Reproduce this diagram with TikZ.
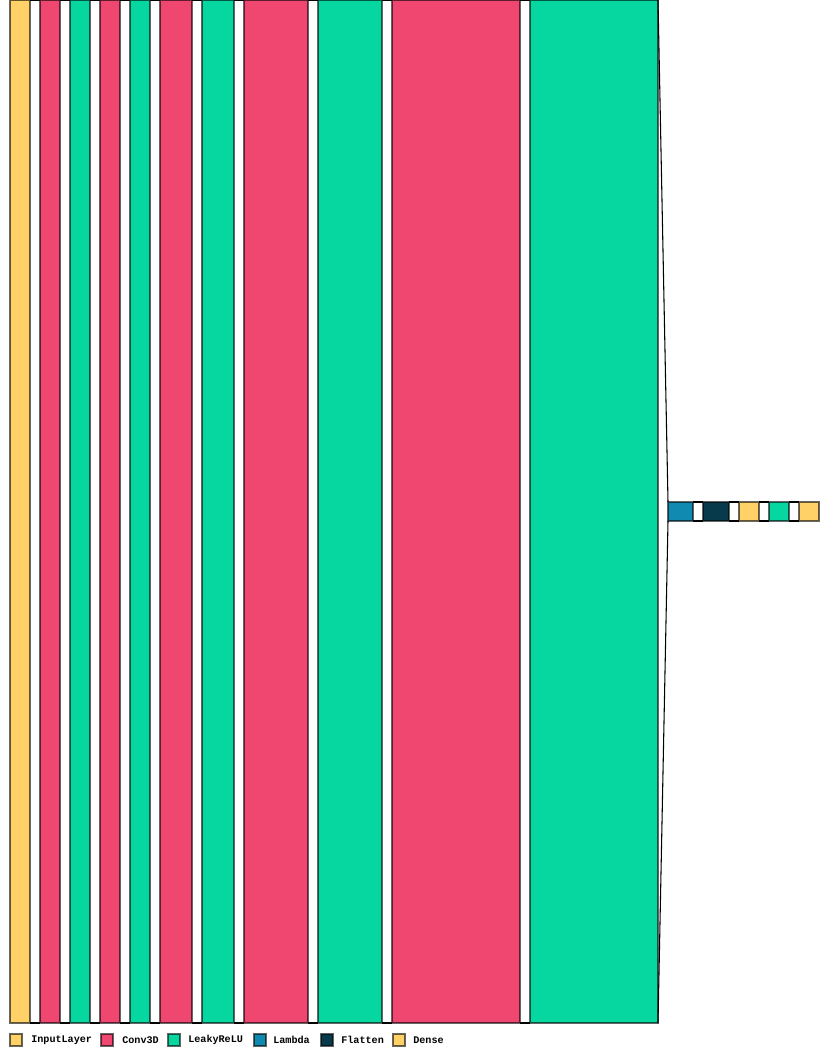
\documentclass[tikz,border=0pt]{standalone}
\usepackage{fontspec}
\setmonofont{Liberation Mono}
\definecolor{cinput}{HTML}{FFD166}
\definecolor{cconv}{HTML}{EF476F}
\definecolor{cleaky}{HTML}{06D6A0}
\definecolor{clambda}{HTML}{118AB2}
\definecolor{cflat}{HTML}{073B4C}
\definecolor{cdense}{HTML}{FFD166}
\tikzset{
  layerbox/.style={draw=black, draw opacity=0.6, line width=0.9pt, inner sep=0pt, outer sep=0pt, anchor=north west},
  conn/.style={draw=black, line width=0.8pt},
  legbox/.style={draw=black, draw opacity=0.6, line width=0.9pt, inner sep=0pt, outer sep=0pt, minimum width=9pt, minimum height=9pt, anchor=north west},
  legtext/.style={font=\ttfamily\bfseries\fontsize{7.6}{9}\selectfont, anchor=west, inner sep=0pt}
}
\newcommand{\mylayer}[6]{%
  \node[layerbox, fill=#6, minimum width={(#3-#2)*0.75pt}, minimum height={(#5-#4)*0.75pt}] (#1) at (#2,#4) {};}
\begin{document}
\begin{tikzpicture}[x=0.75pt,y=-0.75pt]
\useasboundingbox (0,0) rectangle (830,1055);
\mylayer{l1}{10}{30}{0}{1023}{cinput}
\mylayer{l2}{40}{60}{0}{1023}{cconv}
\mylayer{l3}{70}{90}{0}{1023}{cleaky}
\mylayer{l4}{100}{120}{0}{1023}{cconv}
\mylayer{l5}{130}{150}{0}{1023}{cleaky}
\mylayer{l6}{160}{192}{0}{1023}{cconv}
\mylayer{l7}{202}{234}{0}{1023}{cleaky}
\mylayer{l8}{244}{308}{0}{1023}{cconv}
\mylayer{l9}{318}{382}{0}{1023}{cleaky}
\mylayer{l10}{392}{520}{0}{1023}{cconv}
\mylayer{l11}{530}{658}{0}{1023}{cleaky}
\mylayer{l12}{668}{693}{502}{521}{clambda}
\mylayer{l13}{703}{729}{502}{521}{cflat}
\mylayer{l14}{739}{759}{502}{521}{cdense}
\mylayer{l15}{769}{789}{502}{521}{cleaky}
\mylayer{l16}{799}{819}{502}{521}{cdense}
\foreach \a/\b in {l1/l2,l2/l3,l3/l4,l4/l5,l5/l6,l6/l7,l7/l8,l8/l9,l9/l10,l10/l11,l11/l12,l12/l13,l13/l14,l14/l15,l15/l16}{
  \draw[conn] (\a.north east) -- (\b.north west);
  \draw[conn] (\a.south east) -- (\b.south west);
}
% legend
\node[legbox, fill=cinput] (k1) at (10,1034) {};
\node[legtext] (t1) at (31,1040) {InputLayer};
\node[legbox, fill=cconv] (k2) at (101,1034) {};
\node[legtext] (t2) at (122,1040) {Conv3D};
\node[legbox, fill=cleaky] (k3) at (168,1034) {};
\node[legtext] (t3) at (188,1040) {LeakyReLU};
\node[legbox, fill=clambda] (k4) at (254,1034) {};
\node[legtext] (t4) at (273,1040) {Lambda};
\node[legbox, fill=cflat] (k5) at (321,1034) {};
\node[legtext] (t5) at (341,1040) {Flatten};
\node[legbox, fill=cdense] (k6) at (393,1034) {};
\node[legtext] (t6) at (413,1040) {Dense};
\end{tikzpicture}
\end{document}
